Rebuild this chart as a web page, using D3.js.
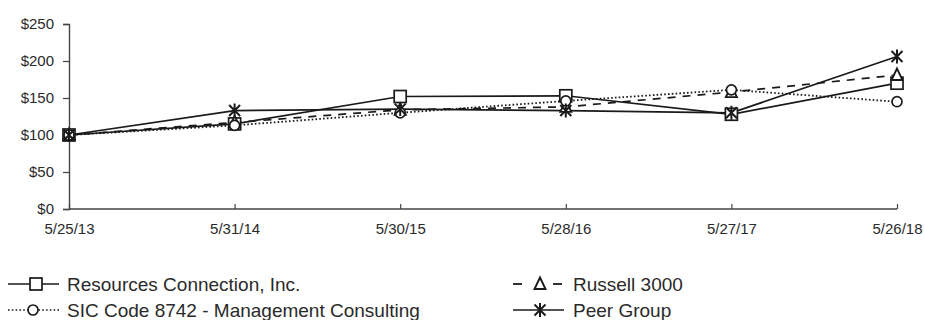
<!DOCTYPE html>
<html>
<head>
<meta charset="utf-8">
<script src="https://cdn.jsdelivr.net/npm/d3@7"></script>
<style>
  html, body { margin: 0; padding: 0; background: #fff; }
  svg { display: block; font-family: "Liberation Sans", Arial, sans-serif; }
</style>
</head>
<body>
<svg id="chart" width="925" height="320"></svg>
<script>
// Cumulative total return of $100 invested on 5/25/13
const dates = ["5/25/13", "5/31/14", "5/30/15", "5/28/16", "5/27/17", "5/26/18"];
const resources = [100, 115, 152, 153, 128, 170];
const russell = [100, 117, 134, 138, 158, 181];
const sic = [100, 113, 130, 146, 161, 145];
const peer = [100, 133, 135, 133, 130, 206];
const yTicks = [0, 50, 100, 150, 200, 250];

const seriesList = [
  { name: "Resources Connection, Inc.", values: resources, dash: null, marker: "square" },
  { name: "Russell 3000", values: russell, dash: "8,7", marker: "triangle" },
  { name: "SIC Code 8742 - Management Consulting", values: sic, dash: "1.6,2.2", marker: "circle" },
  { name: "Peer Group", values: peer, dash: null, marker: "star" }
];

const svg = d3.select("#chart");
const ink = "#1a1a1a";

const x = d3.scalePoint().domain(dates).range([69, 897]);
const y = d3.scaleLinear().domain([0, 250]).range([209, 24]);

// Y axis
const yAxis = svg.append("g").attr("transform", "translate(69,0)")
  .call(d3.axisLeft(y).tickValues(yTicks).tickSize(6).tickPadding(9)
    .tickFormat(d => "$" + d));
// X axis with ticks pointing up into the plot
const xAxis = svg.append("g").attr("transform", "translate(0,209)")
  .call(d3.axisBottom(x).tickSize(-5).tickPadding(11));

[yAxis, xAxis].forEach(g => {
  g.select(".domain").attr("stroke", "#444").attr("stroke-width", 1.4);
  g.selectAll(".tick line").attr("stroke", "#444").attr("stroke-width", 1.2);
  g.selectAll(".tick text").attr("fill", "#2a2a2a").attr("font-size", 15)
    .attr("font-family", "Liberation Sans, Arial, sans-serif");
});
xAxis.select(".domain").attr("d", "M69,0H897");
xAxis.selectAll(".tick text").attr("dy", "0.9em");

function drawMarker(g, type, cx, cy) {
  if (type === "square") {
    const s = 6;
    g.append("rect").attr("x", cx - s).attr("y", cy - s).attr("width", 2 * s).attr("height", 2 * s)
      .attr("fill", "#fff").attr("stroke", ink).attr("stroke-width", 1.7);
  } else if (type === "circle") {
    g.append("circle").attr("cx", cx).attr("cy", cy).attr("r", 5)
      .attr("fill", "#fff").attr("stroke", ink).attr("stroke-width", 1.7);
  } else if (type === "triangle") {
    g.append("path")
      .attr("d", `M${cx},${cy - 6.5}L${cx + 5.5},${cy + 5}L${cx - 5.5},${cy + 5}Z`)
      .attr("fill", "#fff").attr("stroke", ink).attr("stroke-width", 1.9);
  } else if (type === "star") {
    const a = 5.5;
    g.append("path")
      .attr("d", `M${cx - a},${cy - a}L${cx + a},${cy + a}M${cx + a},${cy - a}L${cx - a},${cy + a}M${cx},${cy - a - 1.5}L${cx},${cy + a + 1.5}`)
      .attr("fill", "none").attr("stroke", ink).attr("stroke-width", 2);
  }
}

const line = d3.line().x((d, i) => x(dates[i])).y(d => y(d));

// Lines
seriesList.forEach(s => {
  svg.append("path").datum(s.values)
    .attr("d", line)
    .attr("fill", "none")
    .attr("stroke", ink)
    .attr("stroke-width", s.dash === "1.6,2.2" ? 1.8 : 1.7)
    .attr("stroke-dasharray", s.dash);
});

// Markers
seriesList.forEach(s => {
  const g = svg.append("g");
  s.values.forEach((v, i) => drawMarker(g, s.marker, x(dates[i]), y(v)));
});

// Legend
const legendPos = [
  { x: 8, y: 284 },
  { x: 513, y: 284 },
  { x: 8, y: 310 },
  { x: 513, y: 310 }
];
seriesList.forEach((s, i) => {
  const p = legendPos[i];
  const g = svg.append("g");
  if (s.marker === "triangle") {
    // short dash on each side of the symbol
    [[p.x, p.x + 9], [p.x + 40, p.x + 49]].forEach(([a, b]) => {
      g.append("line").attr("x1", a).attr("x2", b).attr("y1", p.y).attr("y2", p.y)
        .attr("stroke", ink).attr("stroke-width", 1.8);
    });
    drawMarker(g, s.marker, p.x + 27, p.y);
  } else {
    g.append("line").attr("x1", p.x).attr("x2", p.x + 51).attr("y1", p.y).attr("y2", p.y)
      .attr("stroke", ink).attr("stroke-width", 1.7)
      .attr("stroke-dasharray", s.dash);
    drawMarker(g, s.marker, p.x + (s.marker === "circle" ? 25 : s.marker === "star" ? 27 : 28), p.y);
  }
  g.append("text").attr("x", i % 2 === 0 ? 67 : 573).attr("y", p.y).attr("dy", "0.36em")
    .attr("font-size", 19).attr("fill", "#2a2a2a").text(s.name);
});
</script>
</body>
</html>
